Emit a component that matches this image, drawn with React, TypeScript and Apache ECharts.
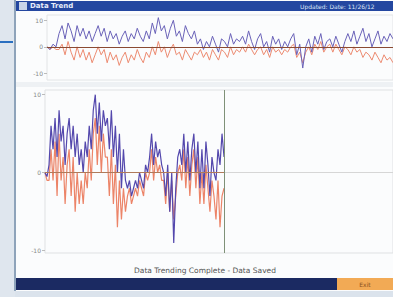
import React, { useEffect, useRef } from "react";
import * as echarts from "echarts";

// Top strip (history) values, sampled across the full width
const topBlue = [
  0, -1, 1, 0,
  5, 8, 3, 9, 6, 2, 8, 4, 7, 3, 6, 2, 5, 8,
  4, 7, 2, 6, 3, 5, 1, 4, 6, 2, 5, 3, 7, 4, 2, 6, 3,
  9, 5, 11, 6, 8, 3, 7, 10, 4, 6, 2, 8, 5, 3, 6,
  1, 3, -1, 2, 0, 4, 1, -2, 3, 2, 0, 5, 1, 3, 2,
  4, 1, 6, 2, -1, 3, 5, 0, 2, -2, 4, 1, 3, -1, 2, 0, 3, 5, -3, 1,
  -8, 0, 3, -2, 4, 1, 5, -1, 2, 3, 0, 4, 1, -2, 2,
  5, 2, 6, 1, 4, 7, 2, 5, 0, 3, 6, 1, 4, 2, 5, 3,
];
const topRed = [
  0, -1, 0, -1,
  -1, 1, -3, 2, -2, -5, 0, -4, -1, -5, -2, -6, -3, 0,
  -3, -1, -6, -2, -5, -3, -7, -4, -2, -6, -3, -5, -1, -4, -6, -2, -4,
  0, -3, 2, -2, 0, -4, -1, 1, -3, -2, -5, -1, -3, -5, -2,
  -3, -1, -4, -2, -5, -1, -3, -5, -1, -2, -4, 0, -3, -1, -2,
  0, -2, 1, -1, -3, -1, 0, -3, -1, -4, 0, -2, -1, -3, -1, -2, 0, 1, -4, -2,
  -6, -2, 0, -3, 1, -1, 2, -2, 0, 1, -2, 1, -1, -3, 0,
  -1, -3, 0, -2, -1, -4, -2, -3, -5, -2, -4, -6, -3, -5, -4, -6,
];

// Bottom (live) values
const liveBlue = [
  0, -0.5, 1,
  6, 3, 7, 2, 8, 4, 6, 1, 5, 7, 3, 6, 2, 5, 1,
  3, 0, 4, 2, 6, 3, 8,
  10, 5, 9, 4, 8, 6,
  7, 3, 8, 2, 6, 0, 5, -2, 3, -1,
  -2, -1, -3, -2, -1, -2, 0, -1, -2, 1, 0,
  2, 5, 1, 4, 2, 3, 1,
  0, -3, 1, -5, 0, -9, -2, 2,
  3, 1, 5, 0, 4, -1, 3, 5, 0, 4, -2,
  3, -2, 4, 1, -3, 2, 0, -1, 3, 1, 5, 2,
];
const liveRed = [
  0, -1, -1,
  3, -1, 4, -3, 5, -1, 2, -4, 1, 3, -3, 2, -5, 0, -4,
  -1, -4, 0, -2, 3, -1, 5,
  7, 1, 6, 0, 5, 2,
  2, -3, 3, -4, 1, -7, -1, -6, -2, -5,
  -3, -2, -4, -3, -2, -3, -1, -2, -3, 0, -1,
  0, 3, -1, 2, 0, 1, -1,
  -1, -4, 0, -5, -1, -6, -3, 0,
  1, -1, 3, -2, 2, -3, 1, 3, -2, 2, -4,
  0, -4, 1, -2, -5, -1, -3, -6, -1, -7, -3, -2,
];
const yTicks = [-10, 0, 10];
const liveSpan = 173;
const cursorAt = 89;

const FONT = "DejaVu Sans";

export default function App() {
  const ref = useRef<HTMLDivElement>(null);
  useEffect(() => {
    const chart = echarts.init(ref.current!, null, { renderer: "svg" });
    const pairs = (arr: number[]) => arr.map((v, i) => [i, v]);
    const yAxisBase = (min: number, max: number, gi: number) => ({
      type: "value" as const,
      gridIndex: gi,
      min,
      max,
      axisLine: { show: false },
      axisTick: { show: true, customValues: yTicks, length: 3, lineStyle: { color: "#bbb" } },
      axisLabel: {
        customValues: yTicks,
        color: "#888",
        fontSize: 6,
        fontFamily: FONT,
        margin: 4,
      },
      splitLine: { show: false },
    });
    chart.setOption({
      animation: false,
      backgroundColor: "#dbe3ec",
      graphic: [
        { type: "rect", z: -10, shape: { x: 0, y: 0, width: 15, height: 297 }, style: { fill: "#dfe6ee" } },
        { type: "rect", z: -10, shape: { x: 0, y: 41, width: 13, height: 2 }, style: { fill: "#2a6fc0" } },
        { type: "rect", z: -10, shape: { x: 14, y: 0, width: 2, height: 291 }, style: { fill: "#8ea3ba" } },
        { type: "rect", z: -10, shape: { x: 16, y: 0, width: 377, height: 291 }, style: { fill: "#fbfcfd" } },
        { type: "rect", z: -9, shape: { x: 16, y: 1, width: 377, height: 10 }, style: { fill: "#2447a0" } },
        { type: "rect", z: -8, shape: { x: 19, y: 2, width: 8, height: 8 }, style: { fill: "#c8d4e8" } },
        { type: "text", z: 10, x: 30, y: 6, style: { text: "Data Trend", fill: "#e8eefa", fontSize: 7, fontWeight: "bold", fontFamily: FONT, verticalAlign: "middle" } },
        { type: "text", z: 10, x: 300, y: 6, style: { text: "Updated: Date: 11/26/12", fill: "#dde6f6", fontSize: 6, fontFamily: FONT, verticalAlign: "middle" } },
        { type: "rect", z: -9, shape: { x: 16, y: 82, width: 377, height: 5 }, style: { fill: "#eef1f4" } },
        { type: "text", z: 10, x: 205, y: 270, style: { text: "Data Trending Complete - Data Saved", fill: "#555", fontSize: 7.5, fontFamily: FONT, align: "center", verticalAlign: "middle" } },
        { type: "rect", z: -9, shape: { x: 16, y: 278, width: 321, height: 12 }, style: { fill: "#1b2a62" } },
        { type: "rect", z: -9, shape: { x: 337, y: 278, width: 56, height: 12 }, style: { fill: "#f2aa55" } },
        { type: "text", z: 10, x: 365, y: 284, style: { text: "Exit", fill: "#8a5020", fontSize: 6, fontFamily: FONT, align: "center", verticalAlign: "middle" } },
      ],
      grid: [
        { left: 47, right: 0, top: 15, height: 65, show: true, borderColor: "#e2e4e6", borderWidth: 1, backgroundColor: "transparent" },
        { left: 45, right: 0, top: 90, height: 163, show: true, borderColor: "#dfe1e3", borderWidth: 1, backgroundColor: "transparent" },
      ],
      xAxis: [
        { type: "value", gridIndex: 0, min: 0, max: topBlue.length - 1, show: false },
        { type: "value", gridIndex: 1, min: 0, max: liveSpan, show: false },
      ],
      yAxis: [yAxisBase(-12.5, 12, 0), yAxisBase(-10.3, 10.6, 1)],
      series: [
        {
          type: "line", xAxisIndex: 0, yAxisIndex: 0, data: pairs(topRed), showSymbol: false,
          lineStyle: { color: "#ec8a70", width: 1 },
          markLine: {
            silent: true, symbol: "none", label: { show: false },
            lineStyle: { color: "#8a4a32", width: 1, type: "solid" },
            data: [{ yAxis: 0 }],
          },
        },
        { type: "line", xAxisIndex: 0, yAxisIndex: 0, data: pairs(topBlue), showSymbol: false, lineStyle: { color: "#6a62b8", width: 1 } },
        {
          type: "line", xAxisIndex: 1, yAxisIndex: 1, data: pairs(liveRed), showSymbol: false,
          lineStyle: { color: "#ec8468", width: 1.2 },
          markLine: {
            silent: true, symbol: "none", label: { show: false },
            data: [
              { yAxis: 0, lineStyle: { color: "#d6d6d6", width: 1, type: "solid" } },
              [
                { coord: [0, 0], lineStyle: { color: "#b07a5a", width: 1, type: "solid" } },
                { coord: [cursorAt, 0] },
              ],
              { xAxis: cursorAt, lineStyle: { color: "#7f9178", width: 1, type: "solid" } },
            ],
          },
        },
        { type: "line", xAxisIndex: 1, yAxisIndex: 1, data: pairs(liveBlue), showSymbol: false, lineStyle: { color: "#5448ad", width: 1.2 } },
      ],
    });
    return () => chart.dispose();
  }, []);
  return (
    <div
      ref={ref}
      style={{ position: "fixed", left: 0, top: 0, width: 393, height: 297 }}
    />
  );
}
